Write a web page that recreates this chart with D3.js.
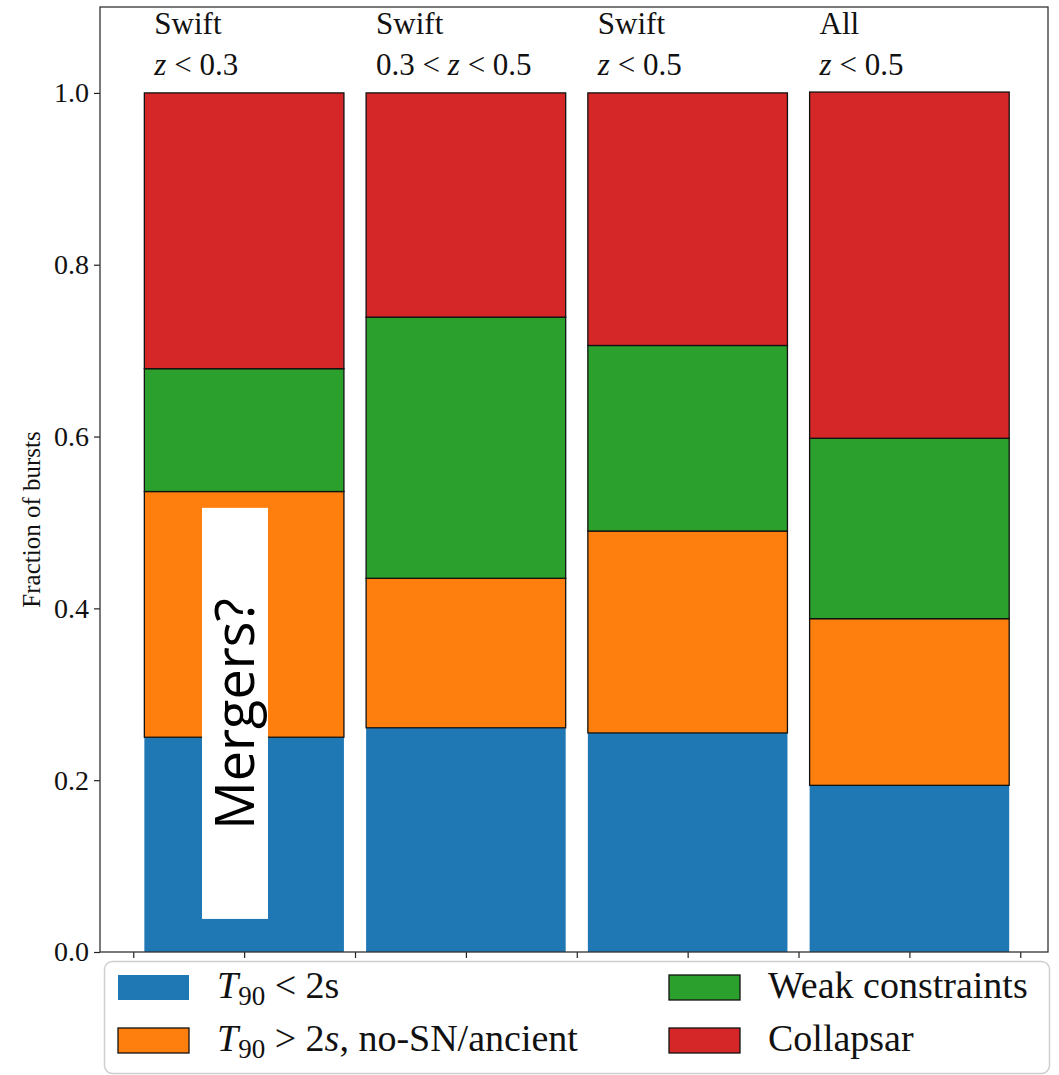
<!DOCTYPE html>
<html>
<head>
<meta charset="utf-8">
<script src="https://cdn.jsdelivr.net/npm/d3@7"></script>
<style>
  html, body { margin: 0; padding: 0; background: #fff; }
  svg { display: block; }
  .serif { font-family: "Liberation Serif", "Times New Roman", serif; fill: #111; }
</style>
</head>
<body>
<svg id="chart" width="1059" height="1075"></svg>
<script>
// Burst samples (stack positions on the x axis)
const groups = ["Swift z<0.3", "Swift 0.3<z<0.5", "Swift z<0.5", "All z<0.5"];
const positions = [1, 3, 5, 7];
const sampleTop = ["Swift", "Swift", "Swift", "All"];
const sampleRange = [["", "z", " < 0.3"], ["0.3 < ", "z", " < 0.5"], ["", "z", " < 0.5"], ["", "z", " < 0.5"]];

// Fraction of bursts in each class, per sample
const shortFrac     = [0.250, 0.261, 0.255, 0.194];
const noSNFrac      = [0.286, 0.174, 0.235, 0.194];
const weakFrac      = [0.143, 0.304, 0.216, 0.210];
const collapsarFrac = [0.321, 0.261, 0.294, 0.403];

const seriesNames  = ["short", "noSN", "weak", "collapsar"];
const seriesColors = ["#1f77b4", "#ff7f0e", "#2ca02c", "#d62728"];
const seriesEdges  = ["#1f77b4", "#111", "#111", "#111"];

const yTicks = [0.0, 0.2, 0.4, 0.6, 0.8, 1.0];
const xTicks = [0, 1, 2, 3, 4, 5, 6, 7, 8];

const svg = d3.select("#chart");
const plot = { left: 100, right: 1048, top: 7, bottom: 952 };

const x = d3.scaleLinear().domain([-0.3, 8.25]).range([plot.left, plot.right]);
const y = d3.scaleLinear().domain([0, 1.1]).range([plot.bottom, plot.top]);
const barWidth = 1.8;

// Stack the four classes
const rows = groups.map((g, i) => ({
  pos: positions[i],
  short: shortFrac[i], noSN: noSNFrac[i], weak: weakFrac[i], collapsar: collapsarFrac[i]
}));
const stacked = d3.stack().keys(seriesNames)(rows);

const barsG = svg.append("g");
stacked.forEach((layer, si) => {
  barsG.selectAll(null)
    .data(layer)
    .enter().append("rect")
    .attr("x", d => x(d.data.pos - barWidth / 2))
    .attr("width", d => x(d.data.pos + barWidth / 2) - x(d.data.pos - barWidth / 2))
    .attr("y", d => y(d[1]))
    .attr("height", d => y(d[0]) - y(d[1]))
    .attr("fill", seriesColors[si])
    .attr("stroke", seriesEdges[si])
    .attr("stroke-width", si === 0 ? 0 : 1.3);
});

// Sample labels above the stacks
const labelsG = svg.append("g").attr("class", "serif").attr("font-size", 31);
positions.forEach((p, i) => {
  labelsG.append("text")
    .attr("x", x(p - 0.81)).attr("y", y(1.068))
    .text(sampleTop[i]);
  const t = labelsG.append("text")
    .attr("x", x(p - 0.81)).attr("y", y(1.021));
  t.append("tspan").text(sampleRange[i][0]);
  t.append("tspan").attr("font-style", "italic").text(sampleRange[i][1]);
  t.append("tspan").text(sampleRange[i][2]);
});

// Axes
const yAxis = d3.axisLeft(y).tickValues(yTicks).tickFormat(d3.format(".1f")).tickSize(6).tickPadding(5);
const yG = svg.append("g").attr("transform", `translate(${plot.left},0)`).call(yAxis);
yG.select(".domain").remove();
yG.selectAll("text").attr("class", "serif").attr("font-size", 28).attr("fill", "#111")
  .attr("font-family", "Liberation Serif, serif");
yG.selectAll("line").attr("stroke", "#222").attr("stroke-width", 1.2);

const xAxis = d3.axisBottom(x).tickValues(xTicks).tickFormat("").tickSize(6);
const xG = svg.append("g").attr("transform", `translate(0,${plot.bottom})`).call(xAxis);
xG.select(".domain").remove();
xG.selectAll("line").attr("stroke", "#222").attr("stroke-width", 1.2);

// Frame
svg.append("rect")
  .attr("x", plot.left).attr("y", plot.top)
  .attr("width", plot.right - plot.left).attr("height", plot.bottom - plot.top)
  .attr("fill", "none").attr("stroke", "#333").attr("stroke-width", 1.3);

// Y axis title
svg.append("text").attr("class", "serif")
  .attr("font-size", 25)
  .attr("text-anchor", "middle")
  .attr("transform", `translate(40,${(plot.top + plot.bottom) / 2 + 40}) rotate(-90)`)
  .text("Fraction of bursts");

// "Mergers?" callout over the first stack
const mx0 = 0.62, mx1 = 1.215, my0 = 0.0385, my1 = 0.517;
svg.append("rect")
  .attr("x", x(mx0)).attr("y", y(my1))
  .attr("width", x(mx1) - x(mx0)).attr("height", y(my0) - y(my1))
  .attr("fill", "#fff");
svg.append("text")
  .attr("font-family", "Open Sans, sans-serif")
  .attr("font-size", 54)
  .attr("fill", "#000")
  .attr("text-anchor", "middle")
  .attr("transform", `translate(254,714) rotate(-90)`)
  .text("Mergers?");

// Legend
const legend = svg.append("g");
legend.append("rect")
  .attr("x", 104.5).attr("y", 961.5).attr("width", 945).attr("height", 112)
  .attr("rx", 8).attr("ry", 8)
  .attr("fill", "#fff").attr("fill-opacity", 0.85)
  .attr("stroke", "#cfcfcf").attr("stroke-width", 1.5);

const legendItems = [
  { si: 0, sx: 118, tx: 217, row: 0 },
  { si: 1, sx: 118, tx: 217, row: 1 },
  { si: 2, sx: 669, tx: 768, row: 0 },
  { si: 3, sx: 669, tx: 768, row: 1 }
];
const rowSwatchY = [975, 1028];
const rowTextY = [998, 1051];

legendItems.forEach(it => {
  legend.append("rect")
    .attr("x", it.sx).attr("y", rowSwatchY[it.row])
    .attr("width", 71).attr("height", 25)
    .attr("fill", seriesColors[it.si])
    .attr("stroke", seriesEdges[it.si])
    .attr("stroke-width", it.si === 0 ? 0 : 1.3);
  const t = legend.append("text").attr("class", "serif")
    .attr("font-size", 38)
    .attr("x", it.tx).attr("y", rowTextY[it.row]);
  if (it.si === 0) {
    t.append("tspan").attr("font-style", "italic").text("T");
    t.append("tspan").attr("font-size", 27).attr("dy", 7).text("90");
    t.append("tspan").attr("dy", -7).text(" < 2s");
  } else if (it.si === 1) {
    t.append("tspan").attr("font-style", "italic").text("T");
    t.append("tspan").attr("font-size", 27).attr("dy", 7).text("90");
    t.append("tspan").attr("dy", -7).text(" > 2");
    t.append("tspan").attr("font-style", "italic").text("s");
    t.append("tspan").text(", no-SN/ancient");
  } else if (it.si === 2) {
    t.text("Weak constraints");
  } else {
    t.text("Collapsar");
  }
});
</script>
</body>
</html>
